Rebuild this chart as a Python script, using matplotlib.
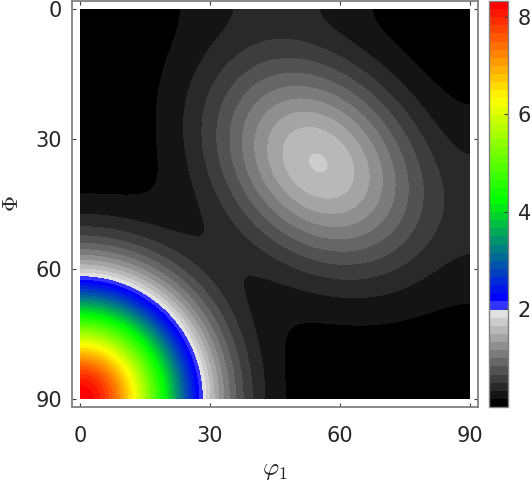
import numpy as np
import matplotlib
matplotlib.use('Agg')
import matplotlib.pyplot as plt
from matplotlib.colors import ListedColormap, BoundaryNorm, to_rgb

plt.rcParams['mathtext.fontset'] = 'cm'

# ---------------- data ----------------
phi1_ticks = [0, 30, 60, 90]
Phi_ticks = [0, 30, 60, 90]
cbar_ticks = [2, 4, 6, 8]

# ODF section components (peak centre, height, widths, tilt)
peak_phi1 = [0.0, 55.0]
peak_Phi = [90.0, 35.5]
peak_height = [8.28, 1.665]
peak_sigma_major = [16.7, 19.3]
peak_sigma_minor = [16.7, 14.6]
peak_tilt_deg = [0.0, 45.0]
peak_mirrored = [False, True]
background = 0.01

# colour scale
level_max = 8.32
n_gray = 12
n_color = 38
gray_top = 0.882
color_stop_values = [2.08, 2.25, 4.26, 6.30, 8.24]
color_stop_hex = ['#3333ff', '#0000ff', '#00ff00', '#ffff00', '#ff0000']

# ---------------- field ----------------
phi1 = np.linspace(0, 90, 181)
Phi = np.linspace(0, 90, 181)
X, Y = np.meshgrid(phi1, Phi)


def gauss(x, y, i):
    t = np.deg2rad(peak_tilt_deg[i])
    dx = x - peak_phi1[i]
    dy = y - peak_Phi[i]
    u = dx * np.cos(t) + dy * np.sin(t)
    v = -dx * np.sin(t) + dy * np.cos(t)
    q = (u / peak_sigma_major[i]) ** 2 + (v / peak_sigma_minor[i]) ** 2
    return peak_height[i] * np.exp(-0.5 * q)


Z = np.full_like(X, background)
for i in range(len(peak_phi1)):
    if peak_mirrored[i]:
        for xs in (X, -X, 180 - X):
            for ys in (Y, -Y, 180 - Y):
                Z += gauss(xs, ys, i)
    else:
        Z += gauss(X, Y, i)

# ---------------- colours ----------------
levels = np.linspace(0, level_max, n_gray + n_color + 1)
centers = 0.5 * (levels[:-1] + levels[1:])
stop_rgb = np.array([to_rgb(c) for c in color_stop_hex])
band_colors = []
for k, c in enumerate(centers):
    if k < n_gray:
        g = gray_top * k / (n_gray - 1)
        band_colors.append((g, g, g))
    else:
        band_colors.append(tuple(np.interp(c, color_stop_values, stop_rgb[:, j]) for j in range(3)))
cmap = ListedColormap(band_colors)
norm = BoundaryNorm(levels, cmap.N)

# ---------------- figure ----------------
W, H = 532, 482
fig = plt.figure(figsize=(W / 100, H / 100), dpi=100)
ax = fig.add_axes([72 / W, 75 / H, 406 / W, 406 / H])
cs = ax.contourf(X, Y, Z, levels=levels, cmap=cmap, norm=norm)

pad = 8 / (130 / 30)
ax.set_xlim(-pad, 90 + pad)
ax.set_ylim(90 + pad, -pad)
ax.set_xticks(phi1_ticks)
ax.set_yticks(Phi_ticks)
for s in ax.spines.values():
    s.set_edgecolor('#808080')
    s.set_linewidth(1.3)
ax.tick_params(direction='in', length=3, width=0.8, color='#404040',
               labelcolor='#262626', labelsize=15,
               top=True, right=True)
ax.tick_params(axis='x', pad=14)
ax.tick_params(axis='y', pad=7)

fig.text(275 / W, 1 - 470 / H, r'$\varphi_1$', fontsize=18, ha='center', va='center', color='#262626')
fig.text(12 / W, 1 - 204 / H, r'$\Phi$', fontsize=16, rotation=90, ha='center', va='center', color='#262626')

cax = fig.add_axes([489 / W, 75 / H, 19 / W, 406 / H])
cb = fig.colorbar(cs, cax=cax, ticks=cbar_ticks)
cb.minorticks_off()
cb.outline.set_edgecolor('#808080')
cb.outline.set_linewidth(1.0)
cax.tick_params(direction='in', length=3, width=0.8, color='#404040',
                labelcolor='#262626', labelsize=15, pad=7)
cax.tick_params(which='minor', length=0)

fig.savefig('out.png', dpi=100)
